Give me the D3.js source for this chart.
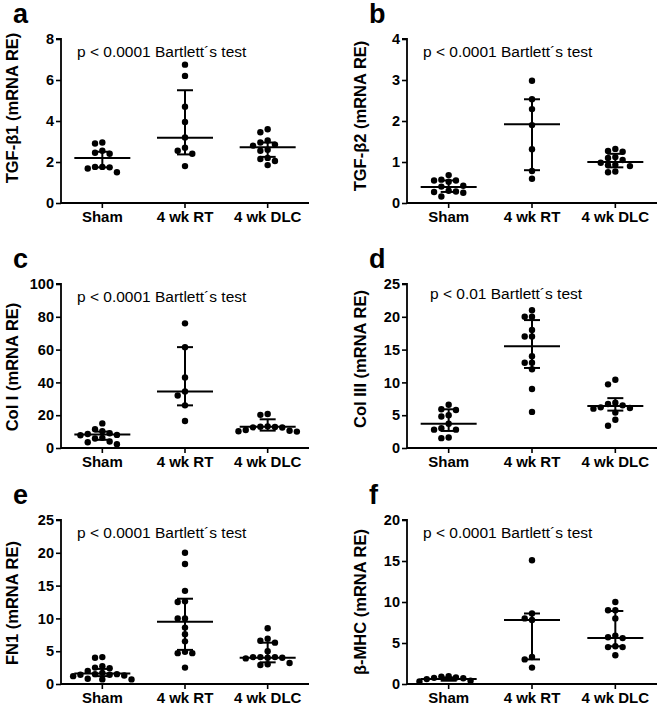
<!DOCTYPE html>
<html><head><meta charset="utf-8">
<script src="https://cdn.jsdelivr.net/npm/d3@7"></script>
<style>
html,body{margin:0;padding:0;background:#fff;}
svg{display:block;}
</style></head>
<body>
<svg id="chart" width="660" height="707"></svg>
<script>
const categories = ["Sham", "4 wk RT", "4 wk DLC"];
const panelLetters = ["a", "b", "c", "d", "e", "f"];
const yTitles = ["TGF-\u03b21 (mRNA RE)", "TGF-\u03b22 (mRNA RE)", "Col I (mRNA RE)", "Col III (mRNA RE)", "FN1 (mRNA RE)", "\u03b2-MHC (mRNA RE)"];
const pTexts = ["p < 0.0001 Bartlett\u00b4s test", "p < 0.0001 Bartlett\u00b4s test", "p < 0.0001 Bartlett\u00b4s test", "p < 0.01 Bartlett\u00b4s test", "p < 0.0001 Bartlett\u00b4s test", "p < 0.0001 Bartlett\u00b4s test"];
const yMaxes = [8, 4, 100, 25, 25, 20];
const yTickSteps = [2, 1, 20, 5, 5, 5];

// a: TGF-b1
const tgfb1Values = [
  [2.95, 2.9, 2.55, 2.45, 2.4, 1.76, 1.74, 1.76, 1.68, 1.5],
  [6.75, 6.2, 4.7, 3.95, 3.2, 2.7, 2.55, 2.4, 1.8],
  [3.6, 3.45, 3.05, 2.95, 2.85, 2.8, 2.6, 2.55, 2.2, 2.15, 2.05, 1.85]
];
const tgfb1Median = [2.2, 3.18, 2.72];
const tgfb1Q1 = [1.74, 2.37, 2.25];
const tgfb1Q3 = [2.5, 5.5, 2.95];

// b: TGF-b2
const tgfb2Values = [
  [0.68, 0.57, 0.55, 0.55, 0.52, 0.42, 0.4, 0.3, 0.28, 0.27, 0.25, 0.16],
  [2.98, 2.53, 2.29, 1.9, 1.31, 0.78, 0.59],
  [1.32, 1.27, 1.25, 1.12, 1.1, 1.05, 0.98, 0.93, 0.92, 0.9, 0.77, 0.75]
];
const tgfb2Median = [0.39, 1.92, 1.0];
const tgfb2Q1 = [0.27, 0.8, 0.87];
const tgfb2Q3 = [0.55, 2.53, 1.2];

// c: Col I
const col1Values = [
  [15, 11.5, 10.2, 9, 8.5, 8, 7.8, 6.2, 5.8, 4, 3.5, 2.3],
  [76, 61.5, 43, 34.5, 32, 26, 16.5],
  [20.7, 20.2, 13.2, 13, 12.8, 12.6, 12.5, 11, 10.5, 10.2, 10]
];
const col1Median = [8.2, 34.5, 12.9];
const col1Q1 = [5, 26, 10.6];
const col1Q3 = [10, 61.5, 17.5];

// d: Col III
const col3Values = [
  [6.6, 5.9, 5.8, 5.0, 4.8, 3.7, 3.0, 2.8, 2.8, 1.6, 1.5],
  [21, 20, 20, 18, 17, 17, 14, 13, 13, 12, 9, 5.5],
  [10.4, 9.7, 6.9, 6.7, 6.5, 6.2, 6.1, 6.0, 5.4, 4.3, 3.4]
];
const col3Median = [3.7, 15.5, 6.4];
const col3Q1 = [2.6, 12.2, 5.7];
const col3Q3 = [5.9, 19.5, 7.6];

// e: FN1
const fn1Values = [
  [4.1, 4.0, 2.7, 2.5, 2.4, 2.0, 1.7, 1.5, 1.5, 1.4, 1.4, 1.3, 1.2, 0.8, 0.7, 0.7],
  [20, 18.3, 14.2, 12.6, 12.5, 10, 10, 8.6, 7.6, 6.5, 4.9, 4.7, 4.7, 2.5],
  [8.5, 6.9, 6.6, 6.3, 5.0, 4.1, 4.1, 4.1, 4.0, 4.0, 3.9, 3.2, 3.0, 2.9]
];
const fn1Median = [1.6, 9.5, 4.0];
const fn1Q1 = [1.2, 5.2, 3.3];
const fn1Q3 = [2.3, 13, 6.3];

// f: beta-MHC
const mhcValues = [
  [0.95, 0.9, 0.8, 0.75, 0.7, 0.6, 0.4, 0.3],
  [15.1, 8.6, 8.0, 7.8, 3.3, 3.0, 2.0],
  [10, 9.0, 9.0, 8.0, 5.9, 5.7, 5.6, 4.6, 4.5, 4.5, 3.5]
];
const mhcMedian = [0.6, 7.8, 5.6];
const mhcQ1 = [0.4, 3.0, 4.6];
const mhcQ3 = [0.8, 8.6, 8.9];

const panelValues = [tgfb1Values, tgfb2Values, col1Values, col3Values, fn1Values, mhcValues];
const panelMedians = [tgfb1Median, tgfb2Median, col1Median, col3Median, fn1Median, mhcMedian];
const panelQ1 = [tgfb1Q1, tgfb2Q1, col1Q1, col3Q1, fn1Q1, mhcQ1];
const panelQ3 = [tgfb1Q3, tgfb2Q3, col1Q3, col3Q3, fn1Q3, mhcQ3];

// layout
const colX = [[61, 309], [407, 657]];
const rowY = [[39, 203], [284, 448], [520, 684]];
const titleCenters = [108, 116, 367, 359, 603, 602];
const FONT = "'Liberation Sans', Arial, Helvetica, sans-serif";

const svg = d3.select("#chart");

function swarm(vals, y, cx, d) {
  const placed = [];
  const sorted = vals.slice().sort((a, b) => b - a);
  const out = [];
  sorted.forEach(v => {
    const py = y(v);
    const order = [0, -1, 1, -2, 2, -3, 3, -4, 4, -5, 5];
    for (const k of order) {
      const clash = placed.some(p => p.k === k && Math.abs(p.y - py) < 6.5);
      if (!clash) { placed.push({k, y: py}); out.push({x: cx + k * d, y: py}); break; }
    }
  });
  return out;
}

panelLetters.forEach((letter, i) => {
  const col = i % 2, row = Math.floor(i / 2);
  const [x0, x1] = colX[col];
  const [yTop, yBot] = rowY[row];
  const g = svg.append("g");

  const x = d3.scaleBand().domain(categories).range([x0, x1]).padding(0);
  const y = d3.scaleLinear().domain([0, yMaxes[i]]).range([yBot, yTop]);

  // y axis
  const yAxis = d3.axisLeft(y).tickValues(d3.range(0, yMaxes[i] + 1e-9, yTickSteps[i])).tickSize(5).tickPadding(2).tickFormat(d3.format("d"));
  const ya = g.append("g").attr("transform", `translate(${x0},0)`).call(yAxis);
  ya.select(".domain").attr("stroke", "#000").attr("stroke-width", 1.8).attr("d", `M-5,${yTop}H0V${yBot}`);
  ya.selectAll(".tick line").attr("stroke", "#000").attr("stroke-width", 1.6);
  ya.selectAll(".tick text").attr("font-family", FONT).attr("font-weight", "bold").attr("font-size", 14.5).attr("fill", "#000");

  // x axis
  const xAxis = d3.axisBottom(x).tickSize(5).tickPadding(3);
  const xa = g.append("g").attr("transform", `translate(0,${yBot})`).call(xAxis);
  xa.select(".domain").attr("stroke", "#000").attr("stroke-width", 1.8).attr("d", `M${x0},0H${x1}`);
  xa.selectAll(".tick line").attr("stroke", "#000").attr("stroke-width", 1.6);
  xa.selectAll(".tick text").attr("font-family", FONT).attr("font-weight", "bold").attr("font-size", 15).attr("fill", "#000");

  // y title
  const titleX = col === 0 ? 18 : 366;
  g.append("text")
    .attr("transform", `translate(${titleX},${titleCenters[i]}) rotate(-90)`)
    .attr("text-anchor", "middle")
    .attr("font-family", FONT).attr("font-weight", "bold").attr("font-size", 16.5)
    .text(yTitles[i]);

  // panel letter
  g.append("text")
    .attr("x", col === 0 ? 13 : 369)
    .attr("y", yTop - 16)
    .attr("font-family", FONT).attr("font-weight", "bold").attr("font-size", 27)
    .text(letter);

  // p text
  g.append("text")
    .attr("x", x0 + (i === 3 ? 23 : 16))
    .attr("y", yTop + (i === 3 ? 15 : 18))
    .attr("font-family", FONT).attr("font-size", 15.5)
    .text(pTexts[i]);

  categories.forEach((c, j) => {
    const cx = x(c) + x.bandwidth() / 2;
    const med = panelMedians[i][j], q1 = panelQ1[i][j], q3 = panelQ3[i][j];
    g.append("line").attr("x1", cx).attr("x2", cx).attr("y1", y(q1)).attr("y2", y(q3)).attr("stroke", "#000").attr("stroke-width", 2);
    [q1, q3].forEach(q => {
      g.append("line").attr("x1", cx - 8).attr("x2", cx + 8).attr("y1", y(q)).attr("y2", y(q)).attr("stroke", "#000").attr("stroke-width", 2);
    });
    g.append("line").attr("x1", cx - 28).attr("x2", cx + 28).attr("y1", y(med)).attr("y2", y(med)).attr("stroke", "#000").attr("stroke-width", 2);
    const pts = swarm(panelValues[i][j], y, cx, 7.3);
    g.selectAll(null).data(pts).enter().append("circle")
      .attr("cx", d => d.x).attr("cy", d => d.y).attr("r", 3.2).attr("fill", "#000");
  });
});
</script>
</body></html>
